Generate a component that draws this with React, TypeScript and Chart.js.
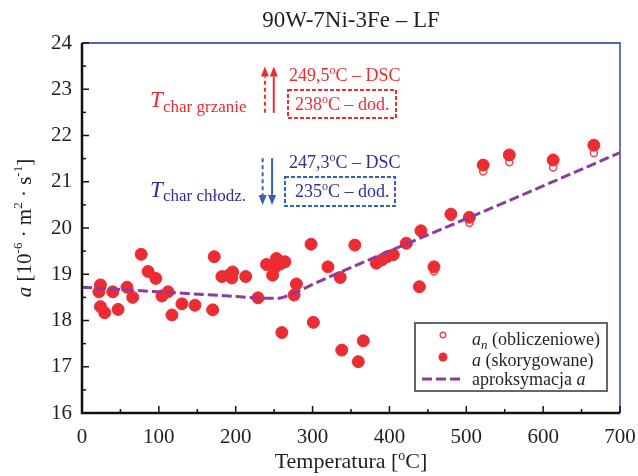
import React, { useEffect, useRef } from "react";
import { Chart, registerables } from "chart.js";

Chart.register(...registerables);

const TITLE = "90W-7Ni-3Fe – LF";
const X_TICKS = [0, 100, 200, 300, 400, 500, 600, 700];
const Y_TICKS = [16, 17, 18, 19, 20, 21, 22, 23, 24];

const TEMPS = [
  22, 24, 24, 29.5, 40, 47, 58.5, 66, 77, 86, 96, 104, 112, 117, 130, 147, 170, 172, 182, 191, 195,
  196, 213, 229, 240, 248, 251, 253, 258, 264, 260, 276, 279, 298, 301, 320, 336, 338, 355, 359.5,
  366, 383, 390, 397, 405, 422, 439, 441, 458, 480, 504, 522, 556, 613, 666,
];
const A_VALUES = [
  18.62, 18.77, 18.3, 18.17, 18.62, 18.24, 18.72, 18.5, 19.43, 19.06, 18.91, 18.53, 18.62, 18.12,
  18.36, 18.33, 18.23, 19.38, 18.95, 18.98, 18.92, 19.05, 18.95, 18.49, 19.21, 18.98, 19.15, 19.34,
  19.22, 19.27, 17.74, 18.55, 18.79, 19.65, 17.96, 19.16, 18.93, 17.36, 19.63, 17.11, 17.56, 19.24,
  19.31, 19.38, 19.42, 19.67, 18.73, 19.94, 19.16, 20.3, 20.23, 21.36, 21.58, 21.47, 21.79,
];
const AN_VALUES = [
  18.62, 18.77, 18.3, 18.17, 18.62, 18.24, 18.72, 18.5, 19.43, 19.06, 18.91, 18.53, 18.62, 18.12,
  18.36, 18.33, 18.23, 19.38, 18.95, 18.98, 18.92, 19.05, 18.95, 18.49, 19.21, 18.98, 19.15, 19.34,
  19.22, 19.27, 17.74, 18.55, 18.79, 19.65, 17.96, 19.16, 18.93, 17.36, 19.63, 17.11, 17.56, 19.24,
  19.31, 19.38, 19.42, 19.67, 18.7, 19.9, 19.06, 20.24, 20.11, 21.22, 21.42, 21.31, 21.62,
];
const FIT_T = [0, 100, 200, 240, 255, 265, 280, 300, 400, 500, 600, 700];
const FIT_A = [18.72, 18.62, 18.52, 18.48, 18.48, 18.52, 18.62, 18.78, 19.5, 20.2, 20.91, 21.63];

const HEAT_DSC = 249.5;
const HEAT_DOD = 238;
const COOL_DSC = 247.3;
const COOL_DOD = 235;

const SERIF = '"Liberation Serif", "DejaVu Serif", serif';
const RED = "#ec2c33";
const NAVY = "#2e3192";
const BLUE = "#3560b4";
const PURPLE = "#8d3b9f";

type Run = { t: string; f: string; dy?: number };

function drawRuns(ctx: CanvasRenderingContext2D, x: number, y: number, runs: Run[], align: string) {
  let w = 0;
  for (const r of runs) {
    ctx.font = r.f;
    w += ctx.measureText(r.t).width;
  }
  let cx = align === "center" ? x - w / 2 : align === "right" ? x - w : x;
  ctx.textAlign = "left";
  ctx.textBaseline = "alphabetic";
  for (const r of runs) {
    ctx.font = r.f;
    ctx.fillText(r.t, cx, y + (r.dy || 0));
    cx += ctx.measureText(r.t).width;
  }
}

function arrow(ctx: CanvasRenderingContext2D, x: number, y0: number, y1: number, color: string, dashed: boolean) {
  const dir = y1 < y0 ? -1 : 1;
  const headLen = 10;
  ctx.save();
  ctx.strokeStyle = color;
  ctx.fillStyle = color;
  ctx.lineWidth = 2;
  ctx.setLineDash(dashed ? [4, 3] : []);
  ctx.beginPath();
  ctx.moveTo(x, y0);
  ctx.lineTo(x, y1 - dir * headLen);
  ctx.stroke();
  ctx.setLineDash([]);
  ctx.beginPath();
  ctx.moveTo(x, y1);
  ctx.lineTo(x - 4, y1 - dir * headLen);
  ctx.lineTo(x + 4, y1 - dir * headLen);
  ctx.closePath();
  ctx.fill();
  ctx.restore();
}

const decorPlugin = {
  id: "decor",
  afterDraw(chart: any) {
    const ctx: CanvasRenderingContext2D = chart.ctx;
    const xs = chart.scales.x;
    const ys = chart.scales.y;
    const { left, right, top, bottom } = chart.chartArea;
    ctx.save();

    // frame
    ctx.strokeStyle = "#5566b4";
    ctx.lineWidth = 1.8;
    ctx.beginPath();
    ctx.moveTo(left, top);
    ctx.lineTo(right, top);
    ctx.lineTo(right, bottom);
    ctx.stroke();
    ctx.strokeStyle = "#111";
    ctx.lineWidth = 2.5;
    ctx.beginPath();
    ctx.moveTo(left, top);
    ctx.lineTo(left, bottom);
    ctx.lineTo(right, bottom);
    ctx.stroke();

    // ticks (inward)
    ctx.lineWidth = 1.5;
    for (let v = 0; v <= 700; v += 50) {
      const px = xs.getPixelForValue(v);
      const len = v % 100 === 0 ? 7 : 4;
      ctx.beginPath();
      ctx.moveTo(px, bottom);
      ctx.lineTo(px, bottom - len);
      ctx.stroke();
    }
    for (let v = 16; v <= 24; v += 0.5) {
      const py = ys.getPixelForValue(v);
      const len = v % 1 === 0 ? 7 : 4;
      ctx.beginPath();
      ctx.moveTo(left, py);
      ctx.lineTo(left + len, py);
      ctx.stroke();
    }

    // title
    ctx.fillStyle = "#231f20";
    drawRuns(ctx, (left + right) / 2, 27, [{ t: TITLE, f: `23px ${SERIF}` }], "center");

    // x axis title
    drawRuns(
      ctx,
      (left + right) / 2,
      468,
      [
        { t: "Temperatura [", f: `22px ${SERIF}` },
        { t: "o", f: `14px ${SERIF}`, dy: -8 },
        { t: "C]", f: `22px ${SERIF}` },
      ],
      "center"
    );

    // y axis title
    ctx.save();
    ctx.translate(31, (top + bottom) / 2);
    ctx.rotate(-Math.PI / 2);
    drawRuns(
      ctx,
      0,
      0,
      [
        { t: "a", f: `italic 21px ${SERIF}` },
        { t: " [10", f: `21px ${SERIF}` },
        { t: "-6", f: `13px ${SERIF}`, dy: -9 },
        { t: " · m", f: `21px ${SERIF}` },
        { t: "2", f: `13px ${SERIF}`, dy: -9 },
        { t: " · s", f: `21px ${SERIF}` },
        { t: "-1", f: `13px ${SERIF}`, dy: -9 },
        { t: "]", f: `21px ${SERIF}` },
      ],
      "center"
    );
    ctx.restore();

    // heating annotation
    const yTop1 = ys.getPixelForValue(23.49);
    const yBot1 = ys.getPixelForValue(22.49);
    arrow(ctx, xs.getPixelForValue(HEAT_DOD), yBot1, yTop1, RED, true);
    arrow(ctx, xs.getPixelForValue(HEAT_DSC), yBot1, yTop1, RED, false);
    ctx.fillStyle = RED;
    drawRuns(ctx, 150, 107, [{ t: "T", f: `italic 23px ${SERIF}` }], "left");
    drawRuns(ctx, 163, 112, [{ t: "char grzanie", f: `17px ${SERIF}` }], "left");
    drawRuns(
      ctx,
      289,
      81,
      [
        { t: "249,5", f: `18px ${SERIF}` },
        { t: "o", f: `12px ${SERIF}`, dy: -7 },
        { t: "C – DSC", f: `18px ${SERIF}` },
      ],
      "left"
    );
    drawRuns(
      ctx,
      295,
      110,
      [
        { t: "238", f: `18px ${SERIF}` },
        { t: "o", f: `12px ${SERIF}`, dy: -7 },
        { t: "C – dod.", f: `18px ${SERIF}` },
      ],
      "left"
    );
    ctx.strokeStyle = RED;
    ctx.lineWidth = 2;
    ctx.setLineDash([4, 2]);
    ctx.strokeRect(288, 90, 108, 28);
    ctx.setLineDash([]);

    // cooling annotation
    const yTop2 = ys.getPixelForValue(21.51);
    const yBot2 = ys.getPixelForValue(20.5);
    arrow(ctx, xs.getPixelForValue(COOL_DOD), yTop2, yBot2, BLUE, true);
    arrow(ctx, xs.getPixelForValue(COOL_DSC), yTop2, yBot2, BLUE, false);
    ctx.fillStyle = NAVY;
    drawRuns(ctx, 150, 197, [{ t: "T", f: `italic 23px ${SERIF}` }], "left");
    drawRuns(ctx, 163, 201, [{ t: "char chłodz.", f: `17px ${SERIF}` }], "left");
    drawRuns(
      ctx,
      289,
      168,
      [
        { t: "247,3", f: `18px ${SERIF}` },
        { t: "o", f: `12px ${SERIF}`, dy: -7 },
        { t: "C – DSC", f: `18px ${SERIF}` },
      ],
      "left"
    );
    drawRuns(
      ctx,
      295,
      197,
      [
        { t: "235", f: `18px ${SERIF}` },
        { t: "o", f: `12px ${SERIF}`, dy: -7 },
        { t: "C – dod.", f: `18px ${SERIF}` },
      ],
      "left"
    );
    ctx.strokeStyle = BLUE;
    ctx.lineWidth = 2;
    ctx.setLineDash([4, 2]);
    ctx.strokeRect(285, 177, 110, 29);
    ctx.setLineDash([]);

    // legend
    ctx.fillStyle = "#ffffff";
    ctx.fillRect(415, 323, 192, 68);
    ctx.strokeStyle = "#666";
    ctx.lineWidth = 2;
    ctx.strokeRect(415, 323, 192, 68);
    ctx.beginPath();
    ctx.arc(443, 335, 2.8, 0, Math.PI * 2);
    ctx.fillStyle = "#fff";
    ctx.fill();
    ctx.strokeStyle = "#ee4a4e";
    ctx.lineWidth = 1.5;
    ctx.stroke();
    ctx.beginPath();
    ctx.arc(443, 357, 4.5, 0, Math.PI * 2);
    ctx.fillStyle = RED;
    ctx.fill();
    ctx.strokeStyle = PURPLE;
    ctx.lineWidth = 3;
    ctx.setLineDash([10, 4]);
    ctx.beginPath();
    ctx.moveTo(422, 379);
    ctx.lineTo(462, 379);
    ctx.stroke();
    ctx.setLineDash([]);
    ctx.fillStyle = "#231f20";
    drawRuns(
      ctx,
      472,
      345,
      [
        { t: "a", f: `italic 18px ${SERIF}` },
        { t: "n", f: `italic 13px ${SERIF}`, dy: 4 },
        { t: " (obliczeniowe)", f: `18px ${SERIF}` },
      ],
      "left"
    );
    drawRuns(
      ctx,
      472,
      366,
      [
        { t: "a", f: `italic 18px ${SERIF}` },
        { t: " (skorygowane)", f: `18px ${SERIF}` },
      ],
      "left"
    );
    drawRuns(
      ctx,
      472,
      385,
      [
        { t: "aproksymacja ", f: `18px ${SERIF}` },
        { t: "a", f: `italic 18px ${SERIF}` },
      ],
      "left"
    );

    ctx.restore();
  },
};

export default function App() {
  const ref = useRef<HTMLCanvasElement | null>(null);
  useEffect(() => {
    if (!ref.current) return;
    const chart = new Chart(ref.current, {
      type: "scatter",
      data: {
        datasets: [
          {
            type: "line",
            label: "aproksymacja a",
            data: FIT_T.map((t, i) => ({ x: t, y: FIT_A[i] })),
            borderColor: PURPLE,
            borderWidth: 3,
            borderDash: [10, 4],
            pointRadius: 0,
            cubicInterpolationMode: "monotone",
            fill: false,
            order: 0,
          } as any,
          {
            label: "a (skorygowane)",
            data: TEMPS.map((t, i) => ({ x: t, y: A_VALUES[i] })),
            backgroundColor: RED,
            borderColor: RED,
            borderWidth: 1,
            pointRadius: 6,
            order: 1,
          },
          {
            label: "an (obliczeniowe)",
            data: TEMPS.map((t, i) => ({ x: t, y: AN_VALUES[i] })),
            backgroundColor: "#ffffff",
            borderColor: "#ee4a4e",
            borderWidth: 1.5,
            pointRadius: 3.5,
            order: 2,
          },
        ],
      },
      options: {
        animation: false,
        responsive: true,
        maintainAspectRatio: false,
        layout: { padding: { left: 0, right: 18, top: 43, bottom: 0 } },
        plugins: { legend: { display: false }, tooltip: { enabled: false }, title: { display: false } },
        scales: {
          x: {
            type: "linear",
            min: 0,
            max: 700,
            afterFit: (s: any) => {
              s.height = 63;
              s.paddingLeft = 0;
              s.paddingRight = 0;
            },
            afterBuildTicks: (s: any) => {
              s.ticks = X_TICKS.map((v) => ({ value: v }));
            },
            grid: { display: false, drawTicks: false },
            border: { display: false },
            ticks: { color: "#231f20", font: { family: SERIF, size: 21 }, padding: 12, maxRotation: 0 },
          },
          y: {
            type: "linear",
            min: 16,
            max: 24,
            afterFit: (s: any) => {
              s.width = 82;
              s.paddingTop = 0;
              s.paddingBottom = 0;
            },
            afterBuildTicks: (s: any) => {
              s.ticks = Y_TICKS.map((v) => ({ value: v }));
            },
            grid: { display: false, drawTicks: false },
            border: { display: false },
            ticks: { color: "#231f20", font: { family: SERIF, size: 21 }, padding: 10 },
          },
        },
      },
      plugins: [decorPlugin],
    });
    return () => chart.destroy();
  }, []);
  return (
    <div style={{ position: "absolute", left: 0, top: 0, width: 638, height: 476, background: "#fff" }}>
      <canvas ref={ref} />
    </div>
  );
}
